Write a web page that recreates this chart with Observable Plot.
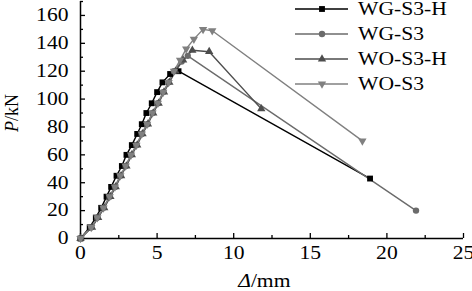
<!DOCTYPE html>
<html><head><meta charset="utf-8">
<script src="https://cdn.jsdelivr.net/npm/d3@7"></script>
<script src="https://cdn.jsdelivr.net/npm/@observablehq/plot@0.6"></script>
<style>body{margin:0;background:#fff} #chart svg{display:block;overflow:visible}</style>
</head><body><div id="chart"></div>
<script>
// ---- data ----
const seriesNames = ["WG-S3-H", "WG-S3", "WO-S3-H", "WO-S3"];
const wgS3H_x = [0,0.6,1.0,1.35,1.7,2.0,2.35,2.7,3.0,3.35,3.7,4.0,4.3,4.65,5.0,5.35,5.85,6.4,18.9];
const wgS3H_y = [0,8,15,22,30,37,45,52,60,67,75,82,90,97,105,112,118,120,43];
const wgS3_x = [0,0.7,1.1,1.5,1.9,2.25,2.6,2.95,3.3,3.65,4.0,4.35,4.7,5.05,5.4,5.75,6.1,6.6,7.0,21.9];
const wgS3_y = [0,8,15,22,30,37,45,52,60,67,75,82,90,97,105,112,120,127,131,20];
const woS3H_x = [0,0.75,1.15,1.55,1.95,2.3,2.65,3.0,3.35,3.7,4.05,4.4,4.75,5.1,5.45,5.8,6.2,6.7,7.3,8.4,11.8];
const woS3H_y = [0,8,15,22,30,37,45,52,60,67,75,82,90,97,105,112,120,128,135,134,93];
const woS3_x = [0,0.7,1.1,1.5,1.9,2.25,2.6,2.95,3.3,3.65,4.0,4.35,4.7,5.05,5.4,5.75,6.1,6.5,6.9,7.4,8.0,8.6,18.4];
const woS3_y = [0,8,15,22,30,37,45,52,60,67,75,82,90,97,105,112,120,128,136,143,150,149,70];
const xTicks = [0,5,10,15,20,25];
const xMinor = [2.5,7.5,12.5,17.5,22.5];
const yTicks = [0,20,40,60,80,100,120,140,160];
const yMinor = [10,30,50,70,90,110,130,150,170];
const xLabel = "Δ/mm";
const yLabel = "P/kN";

// ---- styles ----
const colors = ["#000000", "#6b6b6b", "#4d4d4d", "#808080"];
const symbols = ["square", "circle", "triangle", "triangle"];
const rotates = [0, 0, 0, 180];
const radii = [3.3, 3.2, 3.1, 3.1];
const W = 472, H = 291, mL = 80, mR = 9, mT = 1, mB = 53;
const plotW = W - mL - mR, plotH = H - mT - mB;
const font = "'Liberation Serif','Times New Roman',serif";

const series = [
  [wgS3H_x, wgS3H_y], [wgS3_x, wgS3_y], [woS3H_x, woS3H_y], [woS3_x, woS3_y]
].map(([xs, ys], k) => xs.map((x, i) => ({x, y: ys[i], s: seriesNames[k]})));

const marks = [
  Plot.ruleY([0], {stroke: "#000", strokeWidth: 1.5}),
  Plot.ruleX([0], {stroke: "#000", strokeWidth: 1.5}),
  Plot.tickX(xTicks, {x: d => d, insetTop: plotH - 5, stroke: "#000", strokeWidth: 1.3}),
  Plot.tickX(xMinor, {x: d => d, insetTop: plotH - 3, stroke: "#000", strokeWidth: 1.3}),
  Plot.tickY(yTicks, {y: d => d, insetRight: plotW - 5, stroke: "#000", strokeWidth: 1.3}),
  Plot.tickY(yMinor, {y: d => d, insetRight: plotW - 3, stroke: "#000", strokeWidth: 1.3}),
  Plot.axisX(xTicks, {tickSize: 0, tickPadding: 8, fontSize: 18, label: null}),
  Plot.axisY(yTicks, {tickSize: 0, tickPadding: 12, fontSize: 18, label: null})
];
series.forEach((d, k) => {
  marks.push(Plot.line(d, {x: "x", y: "y", stroke: colors[k], strokeWidth: 1.4}));
});
series.forEach((d, k) => {
  marks.push(Plot.dot(d, {x: "x", y: "y", symbol: symbols[k], r: radii[k], fill: colors[k], stroke: "none", rotate: rotates[k]}));
});

const chart = Plot.plot({
  width: W, height: H,
  marginLeft: mL, marginRight: mR, marginTop: mT, marginBottom: mB,
  style: {fontFamily: font, color: "#000", background: "#fff", overflow: "visible"},
  x: {domain: [0, 25]},
  y: {domain: [0, 170]},
  marks
});
document.getElementById("chart").appendChild(chart);

const svg = d3.select(chart);
// axis labels
const xl = svg.append("text").attr("x", 238).attr("y", 287).attr("text-anchor", "start")
  .attr("font-size", 18).attr("font-family", font).attr("fill", "#000");
xl.append("tspan").attr("font-style", "italic").text(xLabel[0]);
xl.append("tspan").text(xLabel.slice(1));
const yl = svg.append("text").attr("transform", "translate(18,113) rotate(-90)").attr("text-anchor", "middle")
  .attr("font-size", 18).attr("font-family", font).attr("fill", "#000");
yl.append("tspan").attr("font-style", "italic").text(yLabel[0]);
yl.append("tspan").text(yLabel.slice(1));

// legend
const lg = svg.append("g");
const rowY = [9, 34, 59, 84];
const sym = {square: d3.symbolSquare, circle: d3.symbolCircle, triangle: d3.symbolTriangle};
seriesNames.forEach((name, k) => {
  const y = rowY[k];
  lg.append("line").attr("x1", 295).attr("x2", 348).attr("y1", y).attr("y2", y).attr("stroke", colors[k]).attr("stroke-width", 1.4);
  lg.append("path").attr("d", d3.symbol(sym[symbols[k]], Math.PI * radii[k] * radii[k])())
    .attr("transform", `translate(322,${y}) rotate(${rotates[k]})`).attr("fill", colors[k]);
  lg.append("text").attr("x", 358).attr("y", y + 6).attr("text-anchor", "start")
    .attr("font-size", 18).attr("font-family", font).attr("fill", "#000").text(name);
});

// horizontal stretch of text (reference glyphs are widened)
svg.selectAll("text").each(function() {
  if (this === yl.node()) return;
  const bb = this.getBBox();
  const a = getComputedStyle(this).textAnchor;
  const cx = a === "end" ? bb.x + bb.width : a === "middle" ? bb.x + bb.width / 2 : bb.x;
  const t = this.getAttribute("transform") || "";
  this.setAttribute("transform", `${t} translate(${cx},0) scale(1.2,1) translate(${-cx},0)`);
});
</script>
</body></html>
